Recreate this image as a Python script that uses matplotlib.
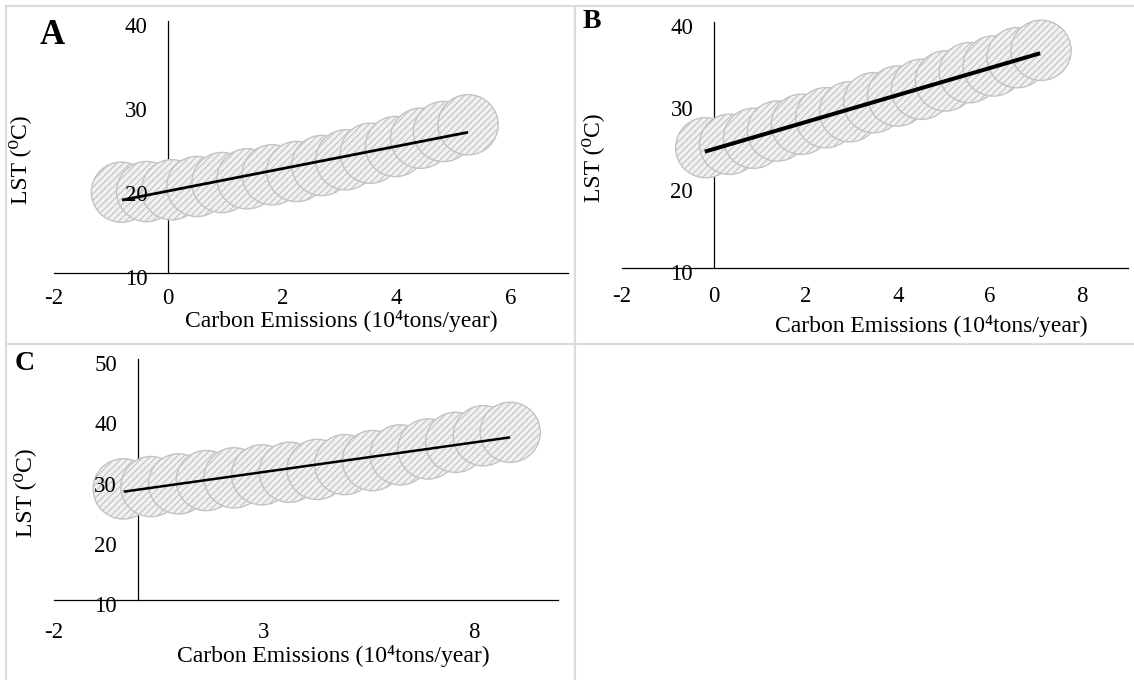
import numpy as np
import matplotlib
matplotlib.use('Agg')
import matplotlib.pyplot as plt
from matplotlib.lines import Line2D
from matplotlib.transforms import ScaledTranslation

plt.rcParams['font.family'] = ['Liberation Serif', 'DejaVu Serif']
plt.rcParams['axes.unicode_minus'] = False
plt.rcParams['hatch.color'] = '#9a9a9a'
plt.rcParams['hatch.linewidth'] = 0.8

# bubble centres
a_x = [-0.82, -0.38, 0.06, 0.50, 0.94, 1.38, 1.82, 2.25, 2.69, 3.11, 3.54, 3.98, 4.42, 4.82, 5.25]
a_y = [19.63, 19.71, 19.92, 20.31, 20.78, 21.22, 21.70, 22.09, 22.80, 23.48, 24.26, 25.06, 26.04, 26.84, 27.64]
a_line_x = [-0.81, 5.25]
a_line_y = [18.7, 26.75]

b_x = [-0.18, 0.34, 0.86, 1.38, 1.90, 2.43, 2.95, 3.47, 3.99, 4.51, 5.03, 5.55, 6.07, 6.59, 7.11]
b_y = [24.67, 25.09, 25.82, 26.70, 27.52, 28.32, 29.05, 30.15, 30.96, 31.78, 32.79, 33.80, 34.61, 35.62, 36.52]
b_line_x = [-0.2, 7.09]
b_line_y = [24.19, 36.16]

c_x = [-0.35, 0.31, 0.97, 1.63, 2.29, 2.95, 3.61, 4.27, 4.93, 5.59, 6.25, 6.91, 7.57, 8.23, 8.87]
c_y = [28.47, 28.85, 29.30, 29.85, 30.30, 30.80, 31.23, 31.70, 32.50, 33.17, 34.12, 35.10, 36.20, 37.30, 37.87]
c_line_x = [-0.34, 8.87]
c_line_y = [28.0, 37.03]

a_xticks = [-2, 0, 2, 4, 6]
b_xticks = [-2, 0, 2, 4, 6, 8]
c_xticks = [-2, 3, 8]
ab_yticks = [10, 20, 30, 40]
c_yticks = [10, 20, 30, 40, 50]

W, H = 1134, 680
fig = plt.figure(figsize=(W / 100, H / 100), dpi=100)


def px_axes(left, top, right, bottom):
    return fig.add_axes([left / W, 1 - bottom / H, (right - left) / W, (bottom - top) / H])


def draw_panel(ax, x, y, lx, ly, xlim, ylim, xticks, yticks, lw, xpad):
    ax.scatter(x, y, s=1880, facecolor='#f1f1f1', edgecolor='#c3c3c3',
               linewidth=1.0, hatch='/////', zorder=2, clip_on=False)
    ax.plot(lx, ly, color='black', linewidth=lw, solid_capstyle='butt', zorder=3, clip_on=False)
    ax.set_xlim(*xlim)
    ax.set_ylim(*ylim)
    ax.set_xticks(xticks)
    ax.set_yticks(yticks)
    ax.spines['top'].set_visible(False)
    ax.spines['right'].set_visible(False)
    ax.spines['left'].set_position(('data', 0))
    for sp in ('left', 'bottom'):
        ax.spines[sp].set_linewidth(0.9)
        ax.spines[sp].set_zorder(1)
    ax.xaxis.set_zorder(4)
    ax.yaxis.set_zorder(4)
    ax.tick_params(axis='both', length=0, labelsize=16.5)
    ax.tick_params(axis='y', pad=15)
    ax.tick_params(axis='x', pad=xpad)
    ax.patch.set_alpha(0)
    off = ScaledTranslation(0, -4 / 100, fig.dpi_scale_trans)
    for t in ax.get_yticklabels():
        t.set_transform(t.get_transform() + off)


ax_a = px_axes(54.1, 20.7, 568, 273.3)
draw_panel(ax_a, a_x, a_y, a_line_x, a_line_y, (-2, 7), (10, 40), a_xticks, ab_yticks, 2.0, 10.5)

ax_b = px_axes(622, 21.7, 1128, 268.3)
draw_panel(ax_b, b_x, b_y, b_line_x, b_line_y, (-2, 9), (10, 40), b_xticks, ab_yticks, 2.9, 13)

ax_c = px_axes(54, 359.3, 557.6, 600)
draw_panel(ax_c, c_x, c_y, c_line_x, c_line_y, (-2, 10), (10, 50), c_xticks, c_yticks, 1.8, 16)

xlab = 'Carbon Emissions (10\u2074tons/year)'
ylab = 'LST (\u2070C)'
for (xx, yy) in [(341, 321), (931, 326), (333, 656)]:
    fig.text(xx / W, 1 - yy / H, xlab, ha='center', va='center', fontsize=17)
for (xx, yy) in [(20, 159.5), (593, 157.5), (25, 493)]:
    fig.text(xx / W, 1 - yy / H, ylab, ha='center', va='center', fontsize=17, rotation=90)

fig.text(52.5 / W, 1 - 36 / H, 'A', ha='center', va='center', fontsize=25, fontweight='bold')
fig.text(592 / W, 1 - 22 / H, 'B', ha='center', va='center', fontsize=20, fontweight='bold')
fig.text(24.5 / W, 1 - 364 / H, 'C', ha='center', va='center', fontsize=20, fontweight='bold')

# light grey panel frame
grey = '#dcdcdc'
for (x0, y0, x1, y1) in [(6, 6, 1134, 6), (6, 6, 6, 680), (575, 6, 575, 680), (6, 344, 1134, 344)]:
    fig.add_artist(Line2D([x0 / W, x1 / W], [1 - y0 / H, 1 - y1 / H], color=grey, linewidth=1.6,
                          transform=fig.transFigure))

fig.savefig('out.png', dpi=100)
